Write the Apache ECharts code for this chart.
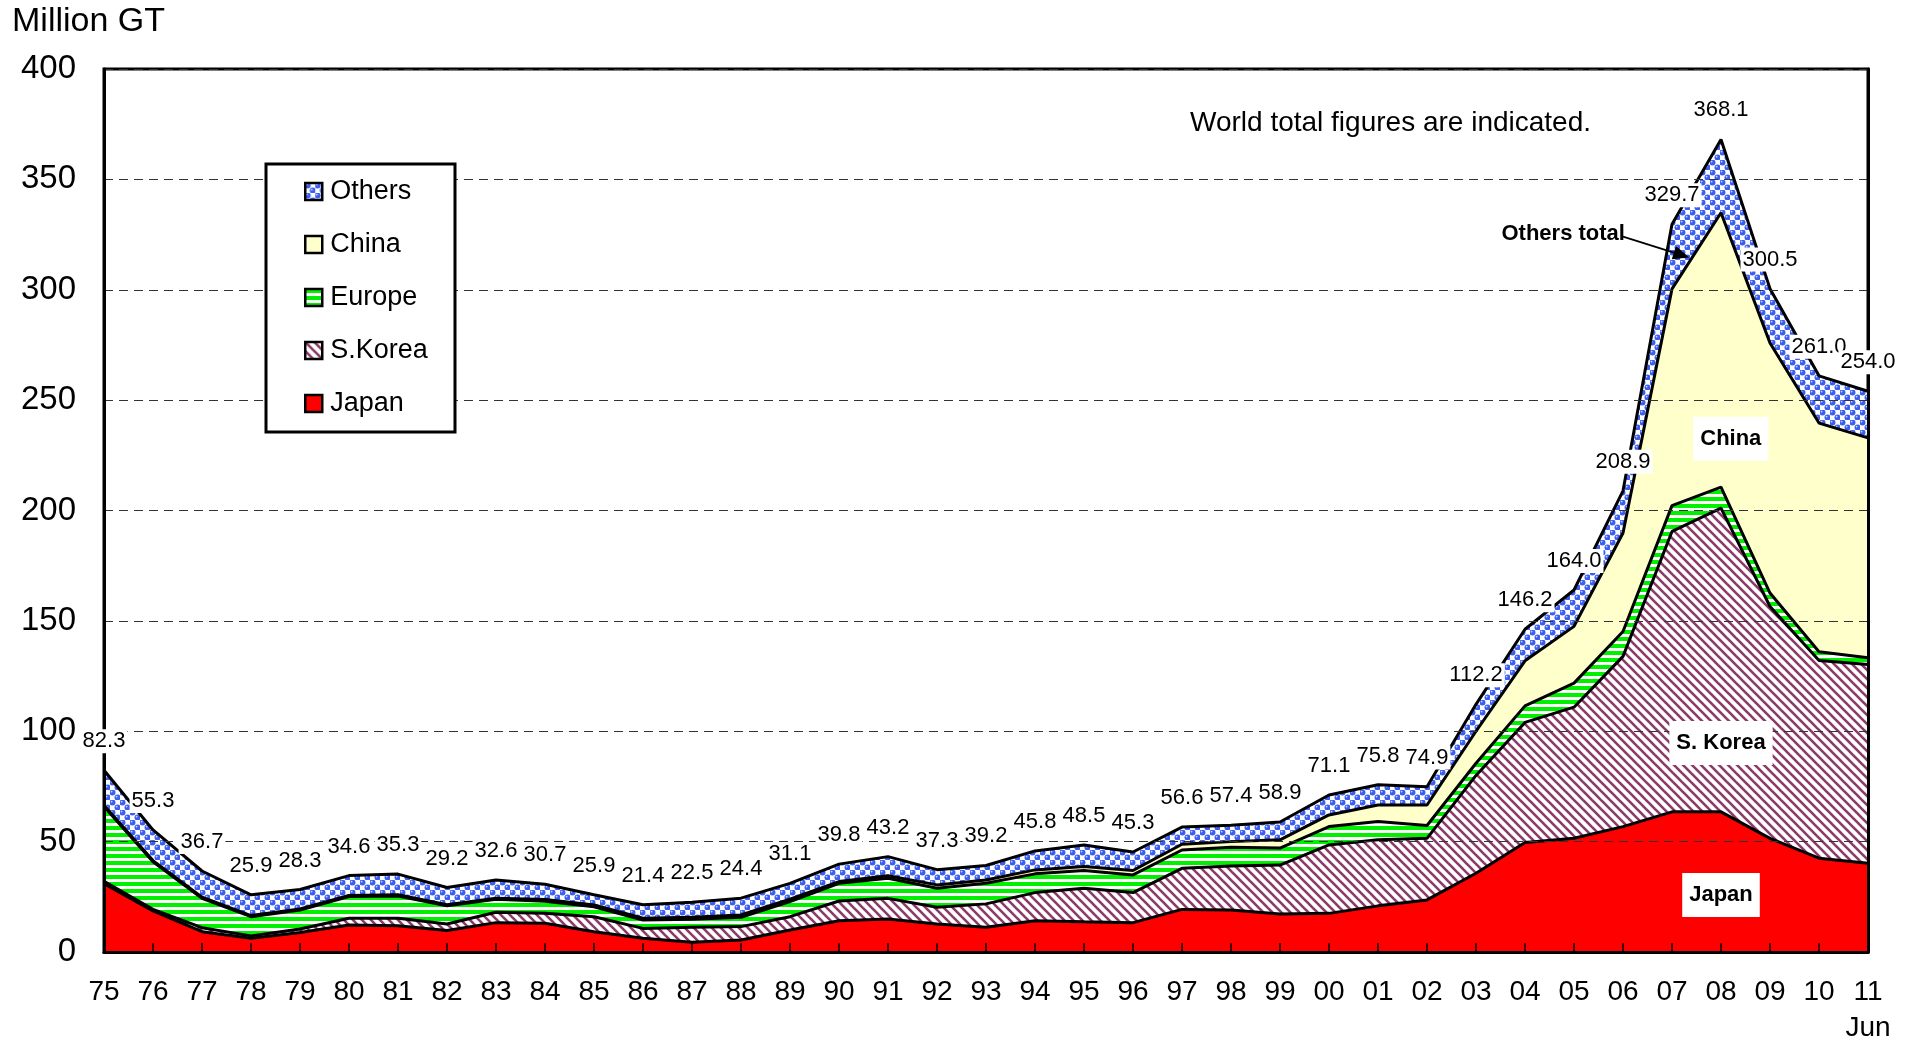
<!DOCTYPE html>
<html>
<head>
<meta charset="utf-8">
<script src="https://cdn.jsdelivr.net/npm/echarts@6/dist/echarts.min.js"></script>
<style>
html,body{margin:0;padding:0;background:#fff;}
#c{width:1914px;height:1045px;}
</style>
</head>
<body>
<div id="c"></div>
<script>
// ---- data (million GT) ----
const years = ['75','76','77','78','79','80','81','82','83','84','85','86','87','88','89','90','91','92','93','94','95','96','97','98','99','00','01','02','03','04','05','06','07','08','09','10','11'];
const totals = [82.3,55.3,36.7,25.9,28.3,34.6,35.3,29.2,32.6,30.7,25.9,21.4,22.5,24.4,31.1,39.8,43.2,37.3,39.2,45.8,48.5,45.3,56.6,57.4,58.9,71.1,75.8,74.9,112.2,146.2,164.0,208.9,329.7,368.1,300.5,261.0,254.0];
const japan  = [31.0,18.6,9.2,6.2,8.8,12.2,11.9,9.7,13.3,13.0,9.2,6.2,4.4,5.4,10.0,14.2,15.0,12.7,11.2,14.2,13.7,13.3,19.3,19.0,17.2,17.5,20.9,23.6,35.7,49.6,51.5,56.8,63.5,63.5,51.5,42.5,40.2];
const korea  = [1.0,0.7,1.8,1.1,1.6,3.1,3.4,3.0,4.7,4.6,6.8,4.5,6.8,6.1,6.0,8.9,9.3,7.6,10.6,12.7,15.2,13.6,18.6,20.0,22.2,31.0,29.9,27.9,44.3,54.4,59.4,77.1,127.0,137.6,105.0,89.5,90.0];
const europe = [33.9,21.6,13.3,8.7,8.6,9.8,10.1,8.2,5.9,5.4,4.5,3.8,3.6,4.2,6.8,8.0,9.1,8.6,9.3,8.5,8.0,8.0,8.3,8.4,7.7,8.3,8.3,5.8,5.5,7.5,10.9,11.3,11.7,9.5,6.1,4.0,3.1];
const china  = [0.5,0.5,0.5,0.5,0.5,0.5,0.5,0.5,0.5,0.8,0.8,0.8,0.9,1.1,1.1,0.8,1.1,1.5,1.5,1.8,1.8,2.0,2.6,2.6,3.7,5.3,7.5,9.3,14.5,20.4,25.7,44.6,98.2,124.3,113.3,103.6,99.6];
const others = [15.9,13.9,11.9,9.4,8.8,9.0,9.4,7.8,8.2,6.9,4.6,6.1,6.8,7.6,7.2,7.9,8.7,6.9,6.6,8.6,9.8,8.4,7.8,7.4,8.1,9.0,9.2,8.3,12.2,14.3,16.5,19.1,29.3,33.2,24.6,21.4,21.1];
const yTicks = [0,50,100,150,200,250,300,350,400];
const seriesNames = ['Japan','S.Korea','Europe','China','Others'];
const legendOrder = ['Others','China','Europe','S.Korea','Japan'];

// ---- patterns ----
function makeCanvas(w, h, draw) {
  const c = document.createElement('canvas');
  c.width = w; c.height = h;
  draw(c.getContext('2d'));
  return c;
}
const othersTile = makeCanvas(10, 10, g => {
  g.fillStyle = '#ffffff'; g.fillRect(0, 0, 10, 10);
  [[2.5,2.5],[7.5,7.5]].forEach(([x,y]) => {
    g.fillStyle = '#3b5ef0';
    g.beginPath(); g.arc(x, y, 3.0, 0, Math.PI*2); g.fill();
    g.fillStyle = '#c9d5ff';
    g.beginPath(); g.arc(x-0.9, y-0.9, 0.9, 0, Math.PI*2); g.fill();
  });
});
const europeTile = makeCanvas(8, 7, g => {
  g.fillStyle = '#ffffff'; g.fillRect(0, 0, 8, 7);
  g.fillStyle = '#00f000'; g.fillRect(0, 0, 8, 4);
});
const koreaTile = makeCanvas(9, 9, g => {
  g.fillStyle = '#ffffff'; g.fillRect(0, 0, 9, 9);
  g.strokeStyle = '#8c3a68'; g.lineWidth = 2.6;
  [-9, 0, 9].forEach(o => {
    g.beginPath(); g.moveTo(o - 1, -1); g.lineTo(o + 10, 10); g.stroke();
  });
});
const fills = {
  'Japan':  '#ff0000',
  'S.Korea': {image: koreaTile, repeat: 'repeat'},
  'Europe': {image: europeTile, repeat: 'repeat'},
  'China':  '#ffffcc',
  'Others': {image: othersTile, repeat: 'repeat'}
};
const seriesData = {'Japan': japan, 'S.Korea': korea, 'Europe': europe, 'China': china, 'Others': others};

const numFont = '"Liberation Sans Narrow", "Arial Narrow", "Liberation Sans", sans-serif';
const txtFont = '"Liberation Sans", "DejaVu Sans", sans-serif';

const series = seriesNames.map((name, k) => ({
  name: name,
  type: 'line',
  stack: 'world',
  data: seriesData[name],
  z: 10 - k,
  symbol: 'none',
  showSymbol: false,
  itemStyle: {color: '#000'},
  lineStyle: {color: '#000', width: 3},
  areaStyle: {color: fills[name], opacity: 1},
  emphasis: {disabled: true},
  silent: true,
  animation: false
}));
// world-total labels on an invisible line drawn above all areas
series.push({
  name: 'World total',
  type: 'line',
  data: totals,
  z: 30,
  symbol: 'circle',
  symbolSize: 0.1,
  showSymbol: true,
  itemStyle: {color: 'rgba(0,0,0,0)'},
  lineStyle: {opacity: 0},
  emphasis: {disabled: true},
  silent: true,
  animation: false,
  label: {
    show: true,
    position: 'top',
    distance: 17,
    formatter: p => totals[p.dataIndex].toFixed(1),
    fontFamily: numFont,
    fontSize: 22,
    color: '#000',
    backgroundColor: '#fff',
    padding: [1, 2]
  }
});

const chart = echarts.init(document.getElementById('c'), null, {renderer: 'canvas'});
const option = {
  backgroundColor: '#fff',
  animation: false,
  grid: {left: 104, right: 46, top: 69, bottom: 93, show: true, borderColor: '#000', borderWidth: 3, backgroundColor: '#fff', containLabel: false, outerBoundsMode: 'none'},
  legend: {
    orient: 'vertical',
    left: 304, top: 178,
    padding: 0,
    itemWidth: 17, itemHeight: 17, itemGap: 26,
    z: 50,
    selectedMode: false,
    textStyle: {fontFamily: txtFont, fontSize: 27, color: '#000', padding: [0, 0, 0, 3]},
    data: legendOrder.map(n => ({name: n, icon: 'rect', itemStyle: {color: fills[n], borderColor: '#000', borderWidth: 2.5}}))
  },
  xAxis: {
    type: 'category',
    data: years,
    boundaryGap: false,
    z: 20,
    axisLine: {show: true, lineStyle: {color: '#000', width: 3}},
    axisTick: {show: true, inside: true, length: 9, lineStyle: {color: '#000', width: 1.5}},
    axisLabel: {
      show: true, interval: 0, margin: 22, color: '#000',
      fontFamily: txtFont, fontSize: 28, lineHeight: 36,
      formatter: (v, i) => (i === years.length - 1 ? v + '\nJun' : v)
    },
    splitLine: {show: false}
  },
  yAxis: [{
    type: 'value', min: yTicks[0], max: yTicks[yTicks.length-1], interval: yTicks[1]-yTicks[0],
    z: 20,
    axisLine: {show: true, lineStyle: {color: '#000', width: 3}},
    axisTick: {show: false},
    axisLabel: {color: '#000', fontFamily: txtFont, fontSize: 33, margin: 28},
    splitLine: {show: true, lineStyle: {color: '#333', width: 1, type: [9, 6]}}
  }, {
    type: 'value', position: 'right', min: yTicks[0], max: yTicks[yTicks.length-1], interval: yTicks[1]-yTicks[0],
    z: 20,
    axisLine: {show: true, lineStyle: {color: '#000', width: 3}},
    axisTick: {show: false}, axisLabel: {show: false}, splitLine: {show: false}
  }],
  series: series
};
chart.setOption(option);

// ---- annotations positioned through the chart's own scales ----
function px(idx, val) {
  const i0 = Math.floor(idx), f = idx - i0;
  const a = chart.convertToPixel({gridIndex: 0}, [i0, val]);
  if (f === 0) return a;
  const b = chart.convertToPixel({gridIndex: 0}, [i0 + 1, val]);
  return [a[0] + (b[0] - a[0]) * f, a[1]];
}
const notes = [
  {text: 'China', idx: 33.2, val: 232.5},
  {text: 'S. Korea', idx: 33.0, val: 94.7},
  {text: 'Japan', idx: 33.0, val: 25.8}
];
const boldFont = 'bold 22px ' + numFont;
const graphics = [];
// legend frame
graphics.push({type: 'rect', z: 40, shape: {x: 266, y: 164, width: 189, height: 268}, style: {fill: '#fff', stroke: '#000', lineWidth: 3}, silent: true});
// y unit
graphics.push({type: 'text', z: 40, x: 12, y: 22, style: {text: 'Million GT', font: '34px ' + txtFont, fill: '#000', align: 'left', verticalAlign: 'middle'}, silent: true});
// note
graphics.push({type: 'text', z: 40, x: 1190, y: 123, style: {text: 'World total figures are indicated.', font: '28px ' + txtFont, fill: '#000', align: 'left', verticalAlign: 'middle'}, silent: true});
notes.forEach(n => {
  const p = px(n.idx, n.val);
  graphics.push({type: 'text', z: 60, x: p[0], y: p[1], style: {text: n.text, font: boldFont, fill: '#000', align: 'center', verticalAlign: 'middle', backgroundColor: '#fff', padding: [11, 7]}, silent: true});
});
// "Others total" with arrow
const ot = px(29.78, 325.5);
graphics.push({type: 'text', z: 60, x: ot[0], y: ot[1], style: {text: 'Others total', font: boldFont, fill: '#000', align: 'center', verticalAlign: 'middle'}, silent: true});
const a0 = px(31.0, 324.1), a1 = px(32.35, 314.6);
const ang = Math.atan2(a1[1] - a0[1], a1[0] - a0[0]);
const hl = 16, hw = 7;
const back = [a1[0] - hl * Math.cos(ang), a1[1] - hl * Math.sin(ang)];
graphics.push({type: 'line', z: 60, shape: {x1: a0[0], y1: a0[1], x2: back[0], y2: back[1]}, style: {stroke: '#000', lineWidth: 1.8}, silent: true});
graphics.push({type: 'polygon', z: 60, shape: {points: [
  a1,
  [back[0] + hw * Math.sin(ang), back[1] - hw * Math.cos(ang)],
  [back[0] - hw * Math.sin(ang), back[1] + hw * Math.cos(ang)]
]}, style: {fill: '#000'}, silent: true});
chart.setOption({graphic: {elements: graphics}});
</script>
</body>
</html>
